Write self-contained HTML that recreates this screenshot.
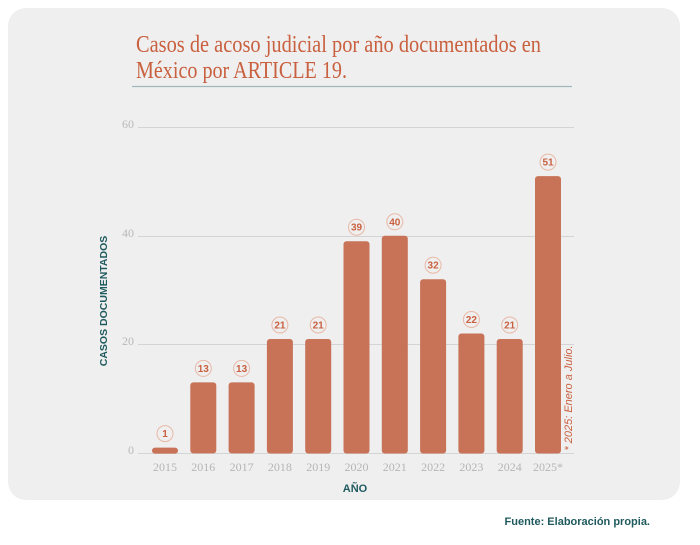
<!DOCTYPE html>
<html><head><meta charset="utf-8"><style>
html,body{margin:0;padding:0;background:#fff;width:700px;height:545px;overflow:hidden}
</style></head><body>
<svg width="700" height="545" viewBox="0 0 700 545" xmlns="http://www.w3.org/2000/svg">
<rect x="8" y="8" width="672" height="492" rx="18" fill="#efefef"/>
<g font-family="Liberation Serif, serif" fill="#c9603f" font-size="24">
<text x="136" y="52" textLength="405" lengthAdjust="spacingAndGlyphs">Casos de acoso judicial por año documentados en</text>
<text x="136" y="78" textLength="211" lengthAdjust="spacingAndGlyphs">México por ARTICLE 19.</text>
</g>
<line x1="132" y1="86.5" x2="572" y2="86.5" stroke="#9fb9bb" stroke-width="1.2"/>
<g stroke="#d4d4d4" stroke-width="1">
<line x1="138" y1="127.5" x2="574" y2="127.5"/>
<line x1="138" y1="236.5" x2="574" y2="236.5"/>
<line x1="138" y1="344.5" x2="574" y2="344.5"/>
<line x1="138" y1="453.5" x2="574" y2="453.5"/>
</g>
<g font-family="Liberation Serif, serif" fill="#b8b8b8" font-size="12" text-anchor="end">
<text x="134" y="128">60</text><text x="134" y="237">40</text><text x="134" y="345">20</text><text x="134" y="454">0</text>
</g>
<text transform="translate(107,301) rotate(-90)" text-anchor="middle" font-family="Liberation Sans, sans-serif" font-weight="bold" font-size="10.5" fill="#1f5a5e">CASOS DOCUMENTADOS</text>
<text x="355" y="492" text-anchor="middle" font-family="Liberation Sans, sans-serif" font-weight="bold" font-size="11" fill="#1f5a5e">AÑO</text>
<text x="650" y="525" text-anchor="end" font-family="Liberation Sans, sans-serif" font-weight="bold" font-size="11" fill="#1f5a5e">Fuente: Elaboración propia.</text>
<text transform="translate(572,398) rotate(-90)" text-anchor="middle" font-family="Liberation Sans, sans-serif" font-style="italic" font-size="11" fill="#c9603f">* 2025: Enero a Julio.</text>
<g fill="#c87257">
<rect x="152" y="447.6" width="26" height="6" rx="3"/>
<rect x="190.3" y="382.4" width="26" height="71" rx="3"/>
<rect x="228.6" y="382.4" width="26" height="71" rx="3"/>
<rect x="266.9" y="339" width="26" height="114.5" rx="3"/>
<rect x="305.2" y="339" width="26" height="114.5" rx="3"/>
<rect x="343.5" y="241.2" width="26" height="212.3" rx="3"/>
<rect x="381.8" y="235.8" width="26" height="217.7" rx="3"/>
<rect x="420.1" y="279.2" width="26" height="174.3" rx="3"/>
<rect x="458.4" y="333.5" width="26" height="120" rx="3"/>
<rect x="496.7" y="339" width="26" height="114.5" rx="3"/>
<rect x="535" y="176.1" width="26" height="277.4" rx="3"/>
</g>
<g fill="none" stroke="#e8b8a6" stroke-width="1">
<circle cx="165" cy="433.6" r="8"/>
<circle cx="203.3" cy="368.4" r="8"/>
<circle cx="241.6" cy="368.4" r="8"/>
<circle cx="279.9" cy="325" r="8"/>
<circle cx="318.2" cy="325" r="8"/>
<circle cx="356.5" cy="227.2" r="8"/>
<circle cx="394.8" cy="221.8" r="8"/>
<circle cx="433.1" cy="265.2" r="8"/>
<circle cx="471.4" cy="319.5" r="8"/>
<circle cx="509.7" cy="325" r="8"/>
<circle cx="548" cy="162.1" r="8"/>
</g>
<g font-family="Liberation Sans, sans-serif" font-weight="bold" font-size="10" fill="#c9603f" text-anchor="middle">
<text x="165" y="437.1">1</text>
<text x="203.3" y="371.9">13</text>
<text x="241.6" y="371.9">13</text>
<text x="279.9" y="328.5">21</text>
<text x="318.2" y="328.5">21</text>
<text x="356.5" y="230.7">39</text>
<text x="394.8" y="225.3">40</text>
<text x="433.1" y="268.7">32</text>
<text x="471.4" y="323">22</text>
<text x="509.7" y="328.5">21</text>
<text x="548" y="165.6">51</text>
</g>
<g font-family="Liberation Serif, serif" font-size="12" fill="#b5b5b5" text-anchor="middle">
<text x="165" y="471">2015</text>
<text x="203.3" y="471">2016</text>
<text x="241.6" y="471">2017</text>
<text x="279.9" y="471">2018</text>
<text x="318.2" y="471">2019</text>
<text x="356.5" y="471">2020</text>
<text x="394.8" y="471">2021</text>
<text x="433.1" y="471">2022</text>
<text x="471.4" y="471">2023</text>
<text x="509.7" y="471">2024</text>
<text x="548" y="471">2025*</text>
</g>
</svg>
</body></html>
